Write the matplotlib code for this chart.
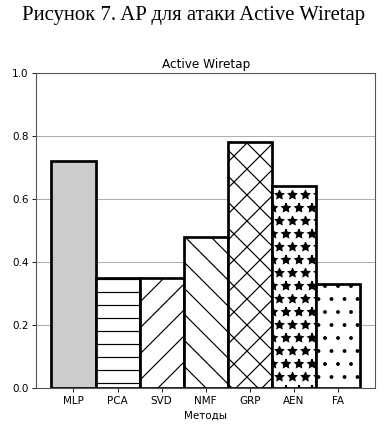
import numpy as np
import matplotlib
matplotlib.use('Agg')
import matplotlib.pyplot as plt

methods = ['MLP', 'PCA', 'SVD', 'NMF', 'GRP', 'AEN', 'FA']
ap = [0.72, 0.35, 0.35, 0.48, 0.78, 0.64, 0.33]
hatches = ['', '-', '/', '\\', 'x', '*', '.']

# lower dpi so the hatch spacing matches the scaled-down original
dpi = 78
plt.rcParams['hatch.linewidth'] = 1.1

fig = plt.figure(figsize=(387.4 / dpi, 433.4 / dpi), dpi=dpi)
ax = fig.add_axes([0.093, 0.104, 0.876, 0.727])

x = np.arange(len(methods))
for i in range(len(methods)):
    fc = '#cccccc' if i == 0 else 'white'
    ax.bar(x[i], ap[i], width=1.0, color=fc, edgecolor='black',
           linewidth=2.5, hatch=hatches[i], zorder=2)

ax.set_xticks(x)
ax.set_xticklabels(methods, fontsize=9.6)
ax.set_ylim(0, 1.0)
ax.set_yticks([0.0, 0.2, 0.4, 0.6, 0.8, 1.0])
ax.tick_params(axis='y', labelsize=9.6)
ax.yaxis.grid(True, color='#b0b0b0', linewidth=1.0, zorder=0)
ax.set_axisbelow(True)
for s in ax.spines.values():
    s.set_color('#555555')
    s.set_linewidth(1.0)
ax.set_title('Active Wiretap', fontsize=11.2, pad=5)
ax.set_xlabel('Методы', fontsize=9.6, labelpad=4)

fig.text(0.5, 0.965, 'Рисунок 7. AP для атаки Active Wiretap',
         ha='center', va='center', fontsize=19.2, family='Liberation Serif')

fig.savefig('out.png', dpi=dpi)
